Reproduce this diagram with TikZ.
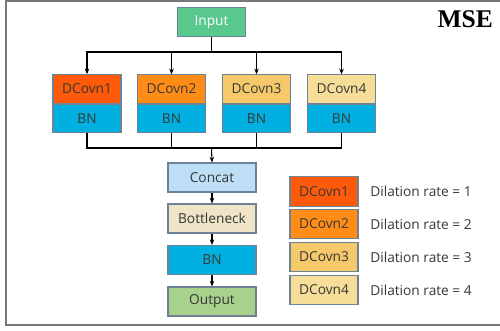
\documentclass[tikz,border=0pt]{standalone}
\usepackage{fontspec}
\setmainfont{Open Sans}
\newfontfamily\msefont{Liberation Serif}
\usetikzlibrary{arrows.meta,positioning}
\definecolor{edgegray}{RGB}{110,130,150}
\definecolor{txtgray}{RGB}{55,55,55}
\definecolor{framegray}{RGB}{120,120,120}
\definecolor{inputgreen}{RGB}{88,200,140}
\definecolor{dcone}{RGB}{255,90,10}
\definecolor{dctwo}{RGB}{255,140,22}
\definecolor{dcthree}{RGB}{245,200,105}
\definecolor{dcfour}{RGB}{246,222,152}
\definecolor{bnblue}{RGB}{0,176,224}
\definecolor{concatblue}{RGB}{190,222,245}
\definecolor{neckbeige}{RGB}{240,228,200}
\definecolor{outgreen}{RGB}{168,210,140}
\begin{document}
\begin{tikzpicture}[x=0.02cm,y=-0.02cm,
    blk/.style={draw=edgegray,line width=0.6pt,minimum width=1.36cm,minimum height=0.57cm,
      inner sep=0pt,text=txtgray,font=\fontsize{7.8}{9}\selectfont},
    wide/.style={blk,minimum width=1.76cm,minimum height=0.58cm},
    bn/.style={blk,fill=bnblue,below=0pt of #1},
    arr/.style={-{Stealth[length=3.2pt,width=2.6pt]},line width=0.6pt},
    lnk/.style={line width=0.6pt}]
  \useasboundingbox (0,0) rectangle (500,331);
  \draw[framegray,line width=0.9pt] (520,1) -- (6,1) -- (6,325) -- (520,325);
  \node[font=\msefont\bfseries\fontsize{14.5}{16}\selectfont,anchor=east] (mse) at (499,19) {MSE};
  \node[blk,fill=inputgreen,text=white] (in) at (211.5,22) {Input};
  \node[blk,fill=dcone] (d1) at (87,89) {DCovn1};
  \node[blk,fill=dctwo] (d2) at (171.5,89) {DCovn2};
  \node[blk,fill=dcthree] (d3) at (256.5,89) {DCovn3};
  \node[blk,fill=dcfour] (d4) at (341.5,89) {DCovn4};
  \node[bn=d1] (b1) {BN};
  \node[bn=d2] (b2) {BN};
  \node[bn=d3] (b3) {BN};
  \node[bn=d4] (b4) {BN};
  \coordinate (split) at (211.5,52);
  \coordinate (join) at (211.5,148);
  \draw[lnk] (in.south) -- (split);
  \foreach \i in {1,2,3,4} {
    \draw[arr] (split) -| (d\i.north);
    \draw[lnk] (b\i.south) |- (join);
  }
  \node[wide,fill=concatblue] (cc) at (212,177.5) {Concat};
  \node[wide,fill=neckbeige] (neck) at (212,218.5) {Bottleneck};
  \node[wide,fill=bnblue] (bn) at (212,260) {BN};
  \node[wide,fill=outgreen] (out) at (212,301.5) {Output};
  \draw[arr] (join) -- (cc.north);
  \draw[arr] (cc) -- (neck);
  \draw[arr] (neck) -- (bn);
  \draw[arr] (bn) -- (out);
  \foreach \i/\c/\y in {1/dcone/191.5,2/dctwo/224,3/dcthree/257,4/dcfour/290} {
    \node[blk,fill=\c,minimum height=0.59cm] (k\i) at (324,\y) {DCovn\i};
    \node[text=txtgray,font=\fontsize{7.8}{9}\selectfont,anchor=west,inner sep=0pt] (t\i) at (370,\y) {Dilation rate = \i};
  }
\end{tikzpicture}
\end{document}
